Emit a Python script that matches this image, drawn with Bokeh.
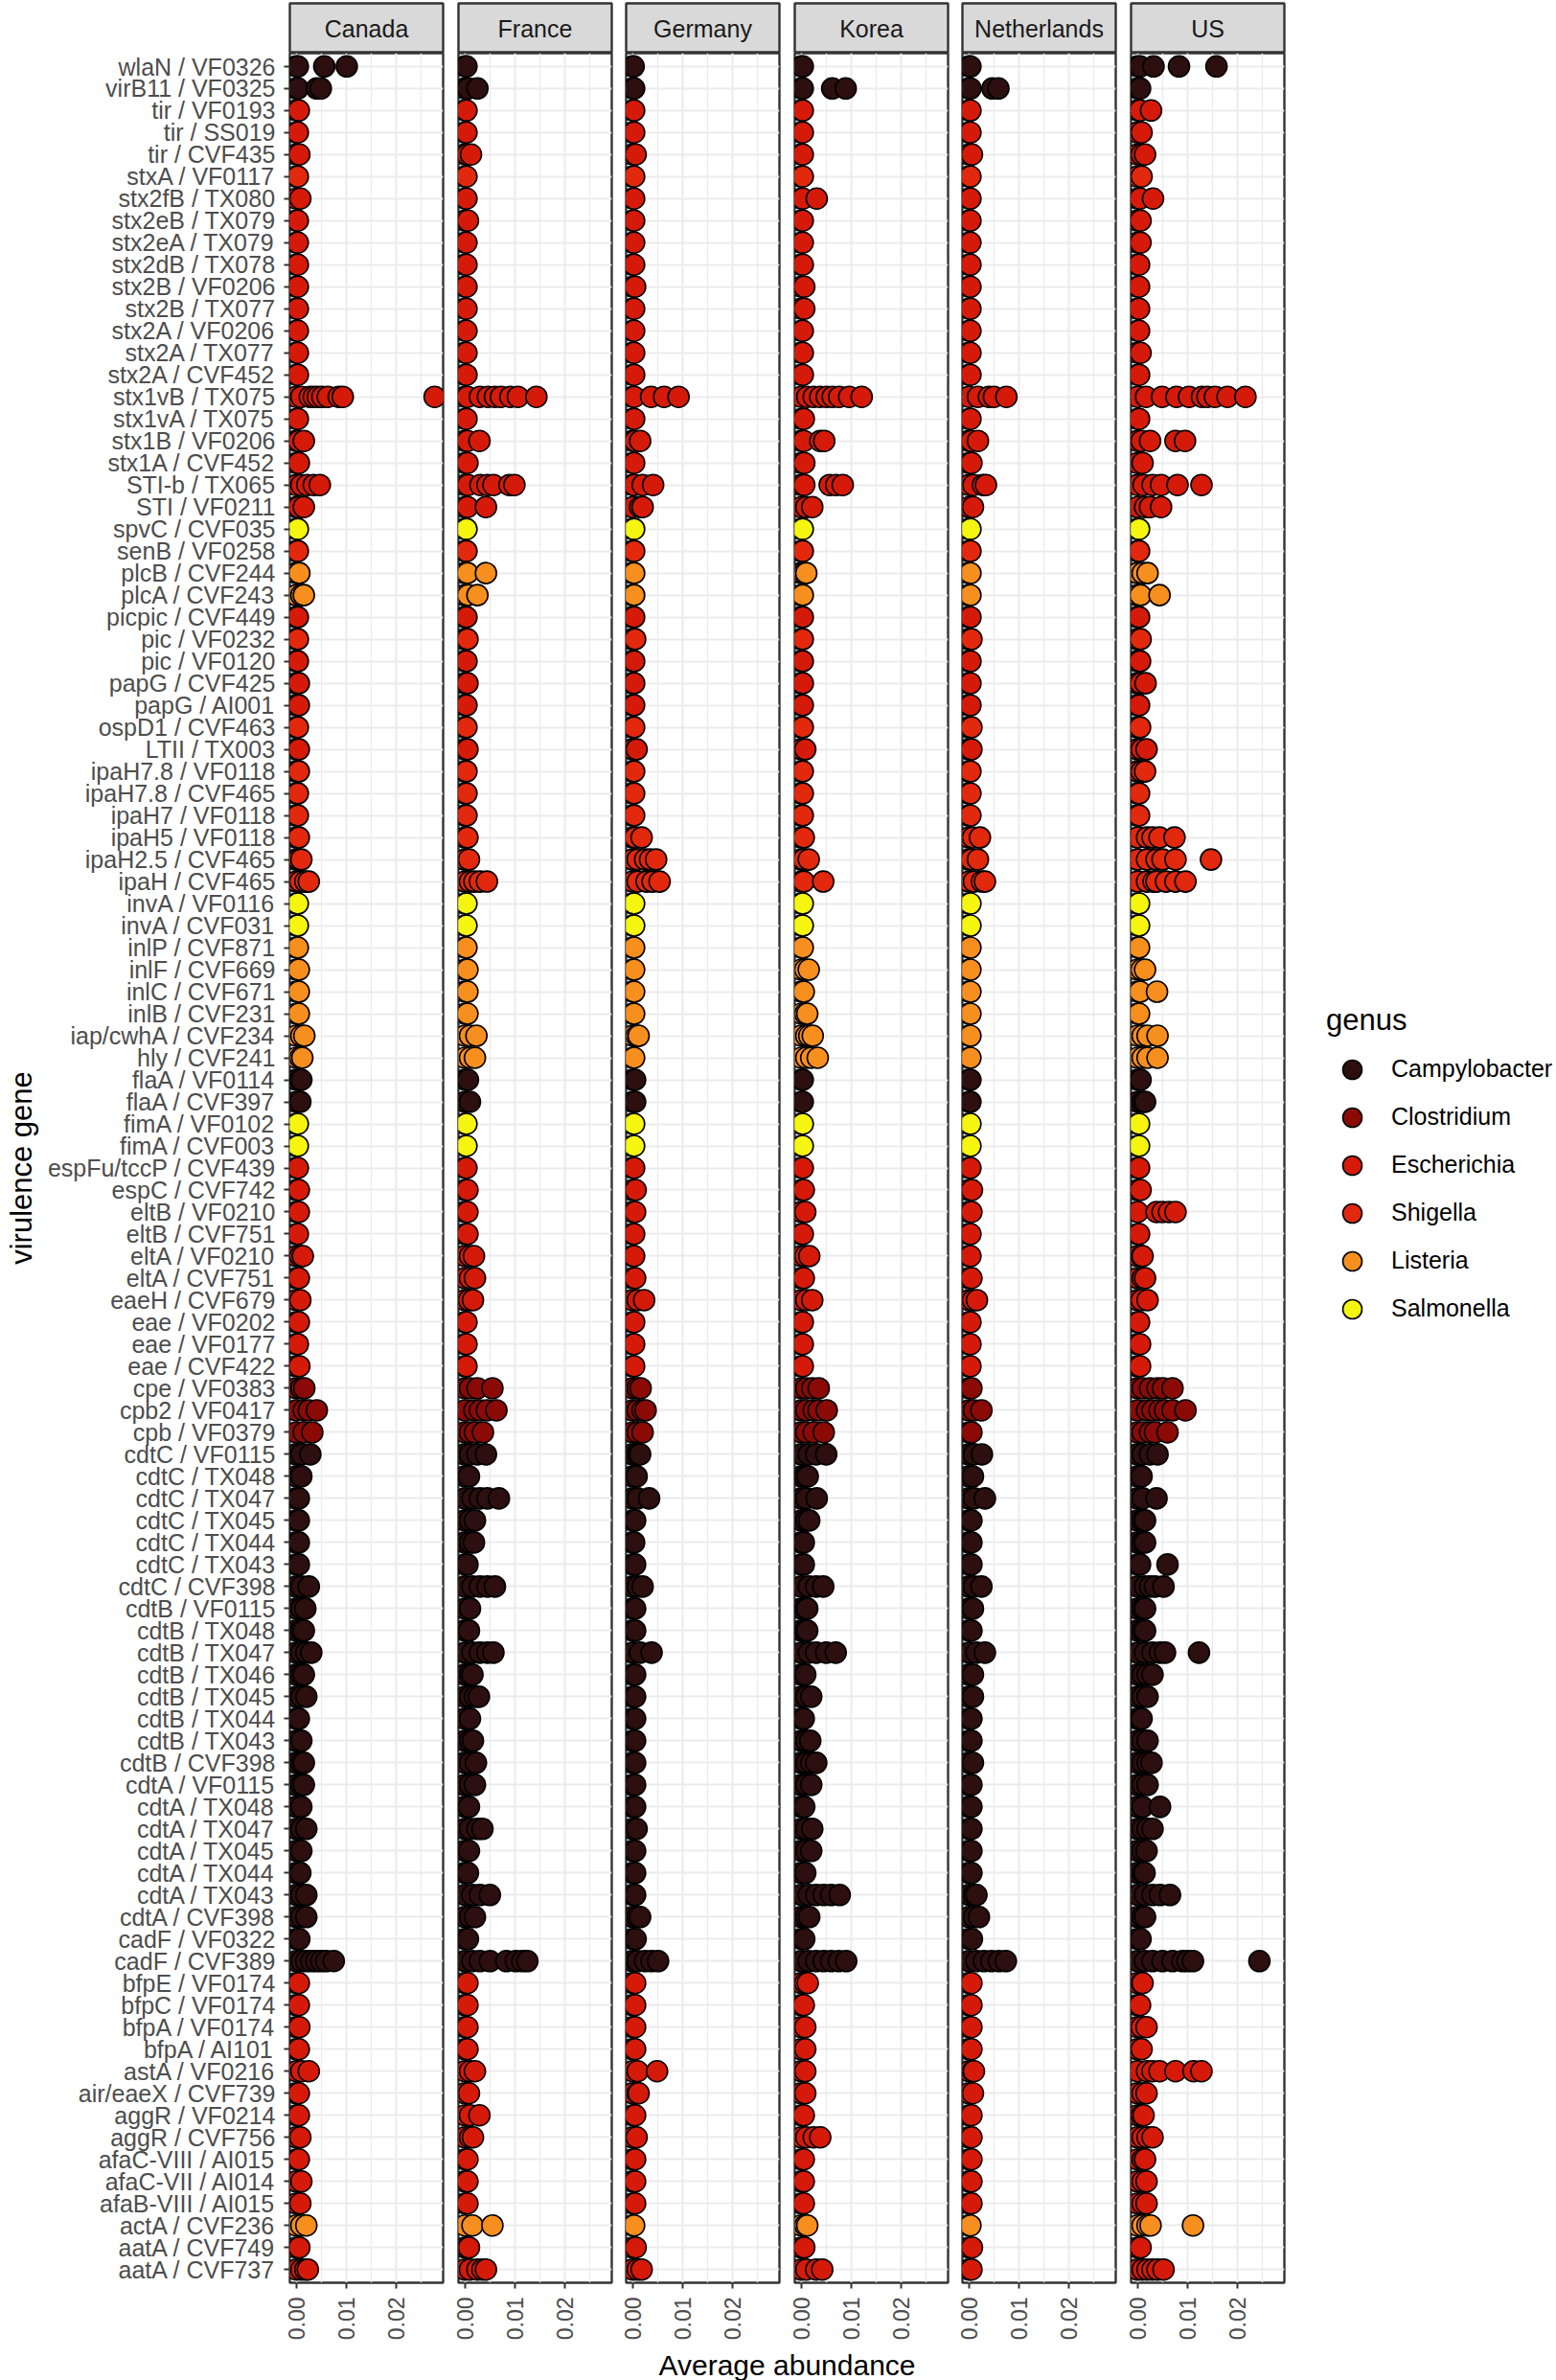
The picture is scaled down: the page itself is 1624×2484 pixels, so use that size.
import math
from bokeh.plotting import figure
from bokeh.models import (ColumnDataSource, FactorRange, Range1d, FixedTicker,
                          NumeralTickFormatter, Legend, LegendItem)
from bokeh.layouts import row, column
from bokeh.embed import file_html
from bokeh.resources import INLINE
from bokeh.core.properties import value

FONT = "Liberation Sans"

countries = ["Canada", "France", "Germany", "Korea", "Netherlands", "US"]

genes = [
    "wlaN / VF0326", "virB11 / VF0325", "tir / VF0193", "tir / SS019", "tir / CVF435",
    "stxA / VF0117", "stx2fB / TX080", "stx2eB / TX079", "stx2eA / TX079", "stx2dB / TX078",
    "stx2B / VF0206", "stx2B / TX077", "stx2A / VF0206", "stx2A / TX077", "stx2A / CVF452",
    "stx1vB / TX075", "stx1vA / TX075", "stx1B / VF0206", "stx1A / CVF452", "STI-b / TX065",
    "STI / VF0211", "spvC / CVF035", "senB / VF0258", "plcB / CVF244", "plcA / CVF243",
    "picpic / CVF449", "pic / VF0232", "pic / VF0120", "papG / CVF425", "papG / AI001",
    "ospD1 / CVF463", "LTII / TX003", "ipaH7.8 / VF0118", "ipaH7.8 / CVF465", "ipaH7 / VF0118",
    "ipaH5 / VF0118", "ipaH2.5 / CVF465", "ipaH / CVF465", "invA / VF0116", "invA / CVF031",
    "inlP / CVF871", "inlF / CVF669", "inlC / CVF671", "inlB / CVF231", "iap/cwhA / CVF234",
    "hly / CVF241", "flaA / VF0114", "flaA / CVF397", "fimA / VF0102", "fimA / CVF003",
    "espFu/tccP / CVF439", "espC / CVF742", "eltB / VF0210", "eltB / CVF751", "eltA / VF0210",
    "eltA / CVF751", "eaeH / CVF679", "eae / VF0202", "eae / VF0177", "eae / CVF422",
    "cpe / VF0383", "cpb2 / VF0417", "cpb / VF0379", "cdtC / VF0115", "cdtC / TX048",
    "cdtC / TX047", "cdtC / TX045", "cdtC / TX044", "cdtC / TX043", "cdtC / CVF398",
    "cdtB / VF0115", "cdtB / TX048", "cdtB / TX047", "cdtB / TX046", "cdtB / TX045",
    "cdtB / TX044", "cdtB / TX043", "cdtB / CVF398", "cdtA / VF0115", "cdtA / TX048",
    "cdtA / TX047", "cdtA / TX045", "cdtA / TX044", "cdtA / TX043", "cdtA / CVF398",
    "cadF / VF0322", "cadF / CVF389", "bfpE / VF0174", "bfpC / VF0174", "bfpA / VF0174",
    "bfpA / AI101", "astA / VF0216", "air/eaeX / CVF739", "aggR / VF0214", "aggR / CVF756",
    "afaC-VIII / AI015", "afaC-VII / AI014", "afaB-VIII / AI015", "actA / CVF236", "aatA / CVF749",
    "aatA / CVF737",
]

genus_levels = ["Campylobacter", "Clostridium", "Escherichia", "Shigella", "Listeria", "Salmonella"]
genus_colors = ["#2C0F0E", "#8C0A05", "#D61A09", "#E2280D", "#F78F1E", "#F5F510"]
genus_code_names = {"C": "Campylobacter", "D": "Clostridium", "E": "Escherichia",
                    "S": "Shigella", "L": "Listeria", "A": "Salmonella"}
# genus of each gene row, in the same order as genes
gene_genus_codes = ("CCEEE" "SEEEE" "EEEEE" "EEEEE" "EASLL" "ESEEE" "SESSS" "SSSAA"
                    "LLLLL" "LCCAA" "EEEEE" "EEEEE" "DDDCC" "CCCCC" "CCCCC" "CCCCC"
                    "CCCCC" "CCEEE" "EEEEE" "EEELE" "E")

canada = [
    [0, .0003, .0056, .0101], [0, .0003, .0041, .0049], [0, .0005], [0, .0003], [0, .0006],
    [0, .0003], [0, .0008], [0, .0003], [0, .0003], [0, .0003],
    [0, .0003], [0, .0003], [0, .0003], [0, .0003], [0, .0003],
    [0, .001, .0027, .0035, .0043, .0052, .0063, .0085, .0093, .0277], [0, .0003], [0, .0005, .0015], [0, .0005], [0, .001, .0022, .0035, .0047],
    [0, .0005, .0015], [0, .0003], [0, .0003], [0, .0006], [0, .001, .0015],
    [0, .0003], [0, .0003], [0, .0003], [0, .0005], [0, .0005],
    [0, .0003], [0, .0005], [0, .0005], [0, .0003], [0, .0003],
    [0, .0005], [0, .0005, .001], [0, .0008, .0018, .0025], [0, .0003], [0, .0003],
    [0, .0003], [0, .0005], [0, .0005], [0, .0005], [0, .001, .0016],
    [0, .0008, .0012], [0, .0008, .001], [0, .0008], [0, .0003], [0, .0003],
    [0, .0003], [0, .0005], [0, .0005], [0, .0003], [0, .0008, .0013],
    [0, .0005], [0, .0008], [0, .0005], [0, .0003], [0, .0006],
    [0, .001, .0016], [0, .0015, .0025, .0041], [0, .0015, .0032], [0, .001, .0028], [0, .001],
    [0, .0005], [0, .0005], [0, .0005], [0, .0005], [0, .001, .0025],
    [0, .001, .0018], [0, .001, .0015], [0, .001, .002, .003], [0, .001, .0015], [0, .001, .002],
    [0, .0005], [0, .001], [0, .001, .0015], [0, .001, .0015], [0, .001],
    [0, .001, .002], [0, .001], [0, .0008], [0, .001, .002], [0, .001, .002],
    [0, .0006], [0, .001, .002, .003, .004, .005, .006, .0075], [0, .0005], [0, .0005], [0, .0006],
    [0, .0005], [0, .001, .0025], [0, .0005], [0, .0005], [0, .0008],
    [0, .0005], [0, .001], [0, .0008], [0, .001, .002], [0, .0006],
    [0, .001, .0018, .0023],
]

france = [
    [0, .0003], [0, .0006, .0025], [0, .0003], [0, .0003], [0, .0005, .0012],
    [0, .0003], [0, .0003], [0, .0006], [0, .0003], [0, .0003],
    [0, .0003], [0, .0003], [0, .0003], [0, .0003], [0, .0003],
    [0, .0005, .003, .0046, .006, .0072, .0091, .0106, .0143], [0, .0003], [0, .0005, .0029], [0, .0005], [0, .0006, .0031, .0045, .0057, .0089, .0099],
    [0, .0005, .0042], [0, .0003], [0, .0003], [0, .0005, .0042], [0, .0006, .0025],
    [0, .0003], [0, .0005], [0, .0003], [0, .0005], [0, .0003],
    [0, .0003], [0, .0005], [0, .0003], [0, .0003], [0, .0003],
    [0, .0005], [0, .0008], [0, .001, .0019, .003, .0044], [0, .0003], [0, .0003],
    [0, .0003], [0, .0005], [0, .0005], [0, .0005], [0, .001, .0023],
    [0, .001, .002], [0, .0006], [0, .001], [0, .0003], [0, .0003],
    [0, .0003], [0, .0005], [0, .0005], [0, .0005], [0, .001, .0018],
    [0, .001, .002], [0, .0008, .0016], [0, .0003], [0, .0003], [0, .0003],
    [0, .001, .0025, .0055], [0, .0019, .003, .0044, .0063], [0, .001, .002, .0036], [0, .001, .0025, .0042], [0, .0008],
    [0, .0015, .003, .0045, .0068], [0, .001, .002], [0, .001, .0018], [0, .0005], [0, .0015, .003, .0045, .006],
    [0, .001], [0, .0008], [0, .0015, .003, .0045, .0057], [0, .001, .0015], [0, .001, .002, .0028],
    [0, .001], [0, .001, .0016], [0, .001, .0022], [0, .001, .002], [0, .0008],
    [0, .001, .0025, .0035], [0, .0008], [0, .0006], [0, .0015, .003, .005], [0, .001, .002],
    [0, .0006], [0, .0015, .003, .005, .0083, .0102, .0115, .0125], [0, .0005], [0, .0005], [0, .0005],
    [0, .0005], [0, .001, .002], [0, .0008], [0, .001, .0029], [0, .001, .0016],
    [0, .0005], [0, .0005], [0, .0005], [0, .0015, .0055], [0, .0005, .0008],
    [0, .001, .0025, .0035, .0042],
]

germany = [
    [0, .0002], [0, .0003], [0, .0003], [0, .0003], [0, .0006],
    [0, .0003], [0, .0003], [0, .0003], [0, .0003], [0, .0003],
    [0, .0005], [0, .0003], [0, .0003], [0, .0003], [0, .0003],
    [0, .0003, .0037, .0063, .0092], [0, .0003], [0, .0005, .0015], [0, .0003], [0, .0003, .002, .0041],
    [0, .0015, .002], [0, .0003], [0, .0003], [0, .0003], [0, .0003],
    [0, .0003], [0, .0005], [0, .0003], [0, .0003], [0, .0003],
    [0, .0003], [0, .0008], [0, .0003], [0, .0003], [0, .0003],
    [0, .0005, .0018], [0, .001, .0025, .0035, .0047], [0, .001, .0028, .004, .0054], [0, .0003], [0, .0003],
    [0, .0003], [0, .0003], [0, .0003], [0, .0003], [0, .0008, .0012],
    [0, .0003], [0, .0005], [0, .0005], [0, .0003], [0, .0003],
    [0, .0003], [0, .0006], [0, .0005], [0, .0003], [0, .0003],
    [0, .0005], [0, .001, .0023], [0, .0003], [0, .0003], [0, .0003],
    [0, .001, .0016], [0, .001, .002, .0026], [0, .001, .002], [0, .001, .0015], [0, .0008],
    [0, .001, .0033], [0, .0005], [0, .0003], [0, .0005], [0, .001, .002],
    [0, .0005], [0, .0005], [0, .0015, .0038], [0, .0005], [0, .0005],
    [0, .0005], [0, .0005], [0, .0005], [0, .0005], [0, .0005],
    [0, .0008], [0, .0005], [0, .0005], [0, .0005], [0, .001, .0015],
    [0, .0006], [0, .001, .0025, .0038, .0051], [0, .0005], [0, .0005], [0, .0005],
    [0, .0005], [0, .001, .0049], [0, .001, .0012], [0, .0005], [0, .0008],
    [0, .0005], [0, .0005], [0, .0005], [0, .0003], [0, .0006],
    [0, .001, .0018],
]

korea = [
    [0, .0003], [0, .0003, .0062, .0089], [0, .0003], [0, .0003], [0, .0003],
    [0, .0003], [0, .0003, .0031], [0, .0003], [0, .0003], [0, .0003],
    [0, .0006], [0, .0006], [0, .0003], [0, .0003], [0, .0003],
    [0, .0012, .0025, .0038, .0051, .0063, .0076, .0096, .0121], [0, .0005], [0, .0005, .0038, .0046], [0, .0006], [0, .0006, .0057, .007, .0083],
    [0, .001, .0022], [0, .0003], [0, .0003], [0, .0006, .001], [0, .0003],
    [0, .0003], [0, .0003], [0, .0003], [0, .0003], [0, .0003],
    [0, .0003], [0, .0008], [0, .0003], [0, .0003], [0, .0003],
    [0, .0005], [0, .0005, .0015], [0, .0005, .0044], [0, .0003], [0, .0003],
    [0, .0003], [0, .0008, .0015], [0, .0005], [0, .0008, .0012], [0, .001, .0016, .0023],
    [0, .001, .002, .0033], [0, .0003], [0, .0003], [0, .0003], [0, .0003],
    [0, .0003], [0, .0005], [0, .0008], [0, .0003], [0, .0008, .0016],
    [0, .0005], [0, .001, .0022], [0, .0003], [0, .0003], [0, .0003],
    [0, .001, .0022, .0035], [0, .001, .0025, .0035, .0051], [0, .001, .0025, .0045], [0, .0015, .003, .005], [0, .0008, .0013],
    [0, .001, .0031], [0, .001, .0016], [0, .0005], [0, .0005], [0, .0015, .003, .0044],
    [0, .0008, .0012], [0, .0008, .0012], [0, .0015, .003, .005, .0069], [0, .0008], [0, .001, .002],
    [0, .0005], [0, .001, .0018], [0, .001, .002, .003], [0, .001, .002], [0, .0006],
    [0, .001, .0022], [0, .001, .002], [0, .0008], [0, .0015, .003, .0045, .006, .0077], [0, .001, .0016],
    [0, .0006], [0, .0015, .003, .0045, .006, .0075, .009], [0, .0008, .0013], [0, .0005], [0, .0008],
    [0, .0008], [0, .0008], [0, .0008], [0, .0005], [0, .001, .0025, .0038],
    [0, .0005], [0, .0005], [0, .0005], [0, .0008, .0012], [0, .0006],
    [0, .001, .003, .0042],
]

netherlands = [
    [0, .0003], [0, .0003, .0047, .0059], [0, .0003], [0, .0003], [0, .0006],
    [0, .0003], [0, .0003], [0, .0003], [0, .0003], [0, .0003],
    [0, .0003], [0, .0003], [0, .0003], [0, .0003], [0, .0003],
    [0, .0018, .004, .005, .0075], [0, .0003], [0, .0005, .0018], [0, .0005], [0, .0009, .0028, .0034],
    [0, .0008], [0, .0003], [0, .0003], [0, .0003], [0, .0003],
    [0, .0003], [0, .0005], [0, .0003], [0, .0003], [0, .0003],
    [0, .0005], [0, .0005], [0, .0003], [0, .0003], [0, .0003],
    [0, .0008, .0022], [0, .0005, .0018], [0, .001, .0026, .0032], [0, .0003], [0, .0003],
    [0, .0003], [0, .0003], [0, .0003], [0, .0003], [0, .0003],
    [0, .0003], [0, .0003], [0, .0003], [0, .0003], [0, .0003],
    [0, .0003], [0, .0006], [0, .0005], [0, .0003], [0, .0003],
    [0, .0005], [0, .0008, .0016], [0, .0003], [0, .0003], [0, .0003],
    [0, .0005], [0, .001, .0025], [0, .0005], [0, .001, .0026], [0, .0008],
    [0, .001, .0032], [0, .0005], [0, .0005], [0, .0005], [0, .001, .0025],
    [0, .0008], [0, .0005], [0, .0015, .0032], [0, .0008], [0, .0008],
    [0, .0005], [0, .0005], [0, .0008], [0, .0005], [0, .0005],
    [0, .0005], [0, .0005], [0, .0005], [0, .001, .0015], [0, .001, .002],
    [0, .0006], [0, .0015, .003, .0045, .006, .0074], [0, .0005], [0, .0005], [0, .0005],
    [0, .0005], [0, .0008, .001], [0, .0008], [0, .0005], [0, .0005],
    [0, .0005], [0, .0005], [0, .0005], [0, .0003], [0, .0006],
    [0, .0005],
]

us = [
    [0, .0005, .0032, .0083, .0158], [0, .0005], [0, .0005, .0027], [0, .0008], [0, .0008, .0015],
    [0, .0008], [0, .0005, .0031], [0, .0006], [0, .0006], [0, .0003],
    [0, .0003], [0, .0003], [0, .0003], [0, .0006], [0, .0003],
    [0, .0017, .0049, .0078, .0103, .0129, .014, .0155, .018, .0216], [0, .0003], [0, .0008, .0025, .0076, .0095], [0, .001], [0, .0012, .003, .0047, .008, .0128],
    [0, .0015, .0025, .0047], [0, .0003], [0, .0003], [0, .001, .002], [0, .0006, .0044],
    [0, .0003], [0, .0006], [0, .0005], [0, .0006, .0016], [0, .0003],
    [0, .0005], [0, .0008, .0018], [0, .0008, .0015], [0, .0003], [0, .0003],
    [0, .0019, .003, .0044, .0074], [0, .0019, .0038, .005, .0076, .0147], [0, .0019, .0032, .0038, .0057, .0076, .0096], [0, .0003], [0, .0003],
    [0, .0003], [0, .0008, .0015], [0, .0005, .0039], [0, .0003], [0, .001, .002, .004],
    [0, .001, .002, .004], [0, .0006], [0, .001, .0015], [0, .0003], [0, .0003],
    [0, .0003], [0, .0006], [0, .0038, .005, .0063, .0076], [0, .0003], [0, .0008, .001],
    [0, .001, .0015], [0, .0008, .002], [0, .0003], [0, .0005], [0, .0005],
    [0, .001, .0025, .004, .0051, .007], [0, .0019, .003, .0044, .0055, .007, .0096], [0, .001, .0025, .0035, .006], [0, .001, .0025, .004], [0, .0008],
    [0, .001, .0038], [0, .001, .0015], [0, .001, .0015], [0, .0005, .006], [0, .0015, .0025, .0035, .0052],
    [0, .001, .0015], [0, .001, .0015], [0, .0015, .003, .0045, .0055, .0123], [0, .001, .002, .003], [0, .001, .002],
    [0, .0005, .0008], [0, .001, .002], [0, .001, .002, .0028], [0, .001, .002], [0, .001, .0045],
    [0, .001, .002, .003], [0, .001, .0018], [0, .001, .0014], [0, .0015, .003, .0045, .0065], [0, .001, .0015],
    [0, .0006], [0, .0015, .003, .005, .007, .009, .01, .0111, .0244], [0, .0008, .001], [0, .0005], [0, .0008, .0018],
    [0, .0008], [0, .0019, .003, .0044, .0076, .0112, .0128], [0, .001, .0018], [0, .0008, .0012], [0, .001, .002, .003],
    [0, .001, .0015], [0, .001, .0018], [0, .001, .0018], [0, .001, .002, .0026, .0111], [0, .0006],
    [0, .001, .002, .003, .004, .0052],
]

country_values = [canada, france, germany, korea, netherlands, us]
for cv in country_values:
    assert len(cv) == len(genes)
assert len(gene_genus_codes) == len(genes)

x_ticks = [0.0, 0.01, 0.02]
x_minor = [0.005, 0.015, 0.025]
x_limits = (-0.0013, 0.0294)

# ---- layout constants (pixels) ----
FRAME_W = 160
FRAME_H = 2327
STRIP_H = 52
STRIP_TOP = 3
LEFT0 = 302
GAPS = [14, 13, 14, 13, 14]
GRID = "#EBEBEB"
BORDER = "#333333"

y_range = FactorRange(factors=list(reversed(genes)), range_padding=0.1,
                      range_padding_units="absolute")
x_range = Range1d(*x_limits)


def base_fig(**kw):
    return figure(output_backend="svg", toolbar_location=None, **kw)


strips, panels = [], []
legend_renderers = {}
for ci, country in enumerate(countries):
    left = LEFT0 if ci == 0 else GAPS[ci - 1]
    # facet strip
    s = base_fig(frame_width=FRAME_W, frame_height=STRIP_H, x_range=Range1d(0, 1),
                 y_range=Range1d(0, 1), min_border_left=left, min_border_right=2,
                 min_border_top=STRIP_TOP, min_border_bottom=0)
    s.axis.visible = False
    s.grid.visible = False
    s.background_fill_color = "#D9D9D9"
    s.outline_line_color = BORDER
    s.outline_line_width = 2.4
    s.text(x=[0.5], y=[0.5], text=[country], text_align="center", text_baseline="middle",
           text_font=value(FONT), text_font_size="25px", text_color="#1A1A1A")

    p = base_fig(frame_width=FRAME_W, frame_height=FRAME_H, x_range=x_range, y_range=y_range,
                 min_border_left=left, min_border_right=2, min_border_top=0, min_border_bottom=0)
    p.outline_line_color = BORDER
    p.outline_line_width = 2.4
    p.xaxis.ticker = FixedTicker(ticks=x_ticks, minor_ticks=x_minor)
    p.xaxis.formatter = NumeralTickFormatter(format="0.00")
    p.xaxis.major_label_orientation = math.pi / 2
    p.xaxis.major_label_text_font = FONT
    p.xaxis.major_label_text_font_size = "23px"
    p.xaxis.major_label_text_color = "#4D4D4D"
    p.xaxis.major_label_standoff = 9
    p.xaxis.major_tick_out = 6
    p.xaxis.major_tick_in = 0
    p.xaxis.major_tick_line_color = BORDER
    p.xaxis.major_tick_line_width = 2
    p.xaxis.minor_tick_line_color = None
    p.xaxis.axis_line_color = None
    p.xgrid.grid_line_color = GRID
    p.xgrid.grid_line_width = 2
    p.xgrid.minor_grid_line_color = GRID
    p.xgrid.minor_grid_line_width = 1.3
    p.ygrid.grid_line_color = GRID
    p.ygrid.grid_line_width = 2
    if ci == 0:
        p.yaxis.major_label_text_font = FONT
        p.yaxis.major_label_text_font_size = "25px"
        p.yaxis.major_label_text_color = "#4D4D4D"
        p.yaxis.major_label_standoff = 9
        p.yaxis.major_tick_out = 6
        p.yaxis.major_tick_in = 0
        p.yaxis.major_tick_line_color = BORDER
        p.yaxis.major_tick_line_width = 2
        p.yaxis.axis_line_color = None
        p.yaxis.axis_label = "virulence gene"
        p.yaxis.axis_label_text_font = FONT
        p.yaxis.axis_label_text_font_size = "31px"
        p.yaxis.axis_label_text_font_style = "normal"
        p.yaxis.axis_label_text_color = "black"
        p.yaxis.axis_label_standoff = 7
    else:
        p.yaxis.visible = False

    vals = country_values[ci]
    for gi, gname in enumerate(genus_levels):
        xs, ys = [], []
        for ri, gene in enumerate(genes):
            if genus_code_names[gene_genus_codes[ri]] != gname:
                continue
            for v in vals[ri]:
                xs.append(v)
                ys.append(gene)
        src = ColumnDataSource(dict(x=xs, y=ys))
        r = p.scatter(x="x", y="y", source=src, marker="circle", size=22,
                      fill_color=genus_colors[gi], line_color="black", line_width=1.6)
        if ci == len(countries) - 1:
            legend_renderers[gname] = r

    strips.append(s)
    panels.append(p)

# legend on the US panel
us_fig = panels[-1]
legend = Legend(items=[LegendItem(label=g, renderers=[legend_renderers[g]]) for g in genus_levels],
                title="genus", location="center_left", orientation="vertical")
legend.title_text_font = FONT
legend.title_text_font_size = "31px"
legend.title_text_font_style = "normal"
legend.title_text_color = "black"
legend.title_standoff = 8
legend.label_text_font = FONT
legend.label_text_font_size = "25px"
legend.label_text_color = "black"
legend.glyph_width = 54
legend.glyph_height = 50
legend.label_height = 50
legend.spacing = 0
legend.label_standoff = 14
legend.padding = 6
legend.margin = 44
legend.border_line_color = None
legend.background_fill_alpha = 0
us_fig.add_layout(legend, "right")

# x-axis title spanning all panels
total_w = FRAME_W * 6 + 2 * 6 + sum(GAPS)
xt = base_fig(frame_width=total_w - 2, frame_height=40, x_range=Range1d(0, 1), y_range=Range1d(0, 1),
              min_border_left=LEFT0, min_border_right=0, min_border_top=0, min_border_bottom=0)
xt.axis.visible = False
xt.grid.visible = False
xt.outline_line_color = None
xt.text(x=[0.5], y=[0.42], text=["Average abundance"], text_align="center", text_baseline="middle",
        text_font=value(FONT), text_font_size="30px", text_color="black")

cols = [column(strips[i], panels[i], spacing=0) for i in range(len(countries))]
layout = column(row(*cols, spacing=0), xt, spacing=0)

open("out.html", "w").write(file_html(layout, INLINE))
